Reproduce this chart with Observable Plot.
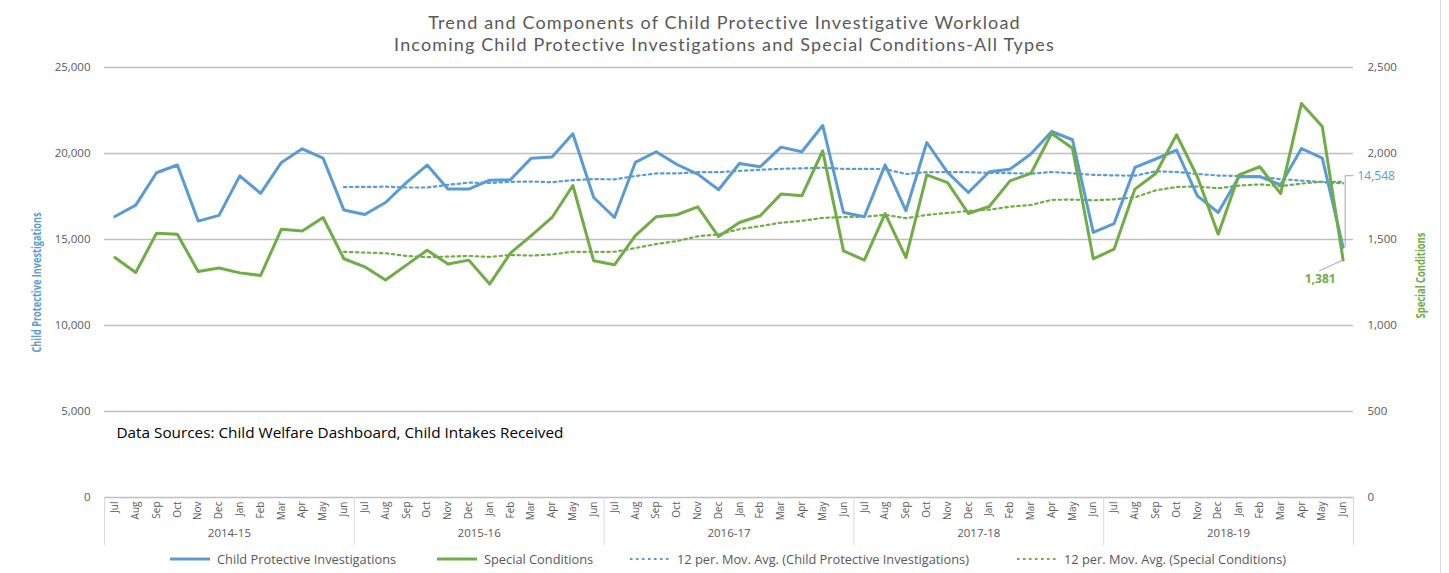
<!DOCTYPE html>
<html>
<head>
<meta charset="utf-8">
<script src="https://cdn.jsdelivr.net/npm/d3@7"></script>
<script src="https://cdn.jsdelivr.net/npm/@observablehq/plot@0.6"></script>
<style>
  html, body { margin: 0; padding: 0; background: #fff; }
  #wrap { position: relative; width: 1449px; height: 573px; overflow: hidden; font-family: "Open Sans", Lato, sans-serif; }
  #title { height: 55px; box-sizing: border-box; padding-top: 11px; text-align: center; color: #595959; font-family: Lato, "Open Sans", sans-serif; font-size: 18px; letter-spacing: 1.15px; line-height: 22px; }
  #title div { height: 22px; line-height: 22px; }
  #chart svg { display: block; }
  #legend { position: relative; height: 20px; font-size: 12.8px; color: #595959; }
  .item { position: absolute; top: -1px; height: 14px; line-height: 14px; white-space: nowrap; }
  .sw { position: absolute; top: 0; height: 12px; }
  #border { position: absolute; left: 1440px; top: 0; width: 1px; height: 573px; background: #d9d9d9; }
</style>
</head>
<body>
<div id="wrap">
  <div id="title">
    <div>Trend and Components of Child Protective Investigative Workload</div>
    <div>Incoming Child Protective Investigations and Special Conditions-All Types</div>
  </div>
  <div id="chart"></div>
  <div id="legend"></div>
  <div id="border"></div>
</div>
<script>
const years = ["2014-15", "2015-16", "2016-17", "2017-18", "2018-19"];
const months = ["Jul", "Aug", "Sep", "Oct", "Nov", "Dec", "Jan", "Feb", "Mar", "Apr", "May", "Jun"];

const childProtectiveInvestigations = [
  16340, 17000, 18880, 19330, 16070, 16400, 18700, 17680, 19480, 20270, 19730, 16710,
  16450, 17150, 18310, 19330, 17930, 17930, 18450, 18470, 19730, 19790, 21150, 17440,
  16280, 19480, 20100, 19360, 18800, 17890, 19420, 19230, 20370, 20100, 21630, 16570,
  16320, 19340, 16670, 20640, 18900, 17730, 18940, 19090, 19970, 21280, 20800, 15410,
  15930, 19190, 19680, 20200, 17540, 16570, 18650, 18660, 18180, 20290, 19730, 14548
];

const specialConditions = [
  1395, 1308, 1537, 1531, 1314, 1334, 1306, 1291, 1560, 1549, 1628, 1388,
  1341, 1264, 1351, 1438, 1357, 1380, 1241, 1421, 1522, 1628, 1814, 1376,
  1353, 1522, 1632, 1644, 1690, 1517, 1599, 1638, 1764, 1754, 2016, 1434,
  1380, 1651, 1395, 1876, 1831, 1651, 1692, 1841, 1884, 2116, 2031, 1388,
  1444, 1793, 1884, 2109, 1865, 1531, 1876, 1923, 1767, 2291, 2157, 1381
];

const leftTicks = [0, 5000, 10000, 15000, 20000, 25000];
const rightTickLabels = [0, 500, 1000, 1500, 2000, 2500];
const seriesNames = [
  "Child Protective Investigations",
  "Special Conditions",
  "12 per. Mov. Avg. (Child Protective Investigations)",
  "12 per. Mov. Avg. (Special Conditions)"
];
const sourceNote = "Data Sources: Child Welfare Dashboard, Child Intakes Received";

const BLUE = "#5B9BD5";
const GREEN = "#70AD47";
const GRAY = "#595959";
const RATIO = 10; // right axis = left axis / 10

const rows = [];
years.forEach((yr, yi) => months.forEach((m, mi) => {
  const i = yi * 12 + mi;
  rows.push({i, year: yr, month: m, cpi: childProtectiveInvestigations[i], sc: specialConditions[i]});
}));
const last = rows[rows.length - 1];
const separators = d3.range(0, years.length + 1).map(k => k * 12 - 0.5);

const fmt = d3.format(",");
const FONT = "'Open Sans', Lato, sans-serif";

const chart = Plot.plot({
  width: 1449,
  height: 498,
  marginLeft: 104,
  marginRight: 96,
  marginTop: 12,
  marginBottom: 56,
  style: {fontFamily: FONT, color: GRAY, background: "white"},
  x: {type: "linear", domain: [-0.5, rows.length - 0.5]},
  y: {domain: [0, 25000]},
  marks: [
    Plot.gridY(leftTicks, {stroke: "#bfbfbf", strokeOpacity: 1, strokeWidth: 1.3}),
    Plot.axisY({anchor: "left", ticks: leftTicks, tickFormat: fmt, tickSize: 0, tickPadding: 14, fontSize: 11.5, label: null}),
    Plot.axisY({anchor: "right", ticks: leftTicks, tickFormat: (d, k) => fmt(rightTickLabels[k]), tickSize: 0, tickPadding: 14, fontSize: 11.5, label: null}),
    Plot.axisX({ticks: rows.map(d => d.i), tickFormat: i => months[i % 12], tickRotate: -90, tickSize: 0, tickPadding: 4, fontSize: 10, label: null}),
    Plot.ruleX(separators, {x: d => d, y1: 0, y2: -2790, stroke: "#d9d9d9", strokeWidth: 1}),
    Plot.text(years, {x: (d, k) => k * 12 + 5.5, frameAnchor: "bottom", dy: 39, text: d => d, fontSize: 11.5, fill: GRAY}),
    // moving averages
    Plot.line(rows, Plot.windowY({k: 12, anchor: "end", strict: true}, {x: "i", y: "cpi", stroke: BLUE, strokeWidth: 2.2, strokeDasharray: "2.5,3.5"})),
    Plot.line(rows, Plot.windowY({k: 12, anchor: "end", strict: true}, {x: "i", y: d => d.sc * RATIO, stroke: GREEN, strokeWidth: 2.2, strokeDasharray: "2.5,3.5"})),
    // main series
    Plot.line(rows, {x: "i", y: "cpi", stroke: BLUE, strokeWidth: 3}),
    Plot.line(rows, {x: "i", y: d => d.sc * RATIO, stroke: GREEN, strokeWidth: 3}),
    // data labels with leaders
    Plot.link([last], {x1: d => d.i + 0.1, x2: d => d.i + 0.1, y1: d => d.cpi, y2: d => d.cpi + 4160, stroke: "#a6a6a6", strokeWidth: 1}),
    Plot.link([last], {x1: d => d.i + 0.1, x2: d => d.i + 0.5, y1: d => d.cpi + 4160, y2: d => d.cpi + 4160, stroke: "#a6a6a6", strokeWidth: 1}),
    Plot.text([last], {x: d => d.i + 0.5, y: d => d.cpi + 4160, dx: 4, text: d => fmt(d.cpi), textAnchor: "start", fill: BLUE, fontSize: 12}),
    Plot.link([last], {x1: d => d.i, y1: d => d.sc * RATIO, x2: d => d.i - 1.15, y2: d => d.sc * RATIO - 640, stroke: "#a6a6a6", strokeWidth: 1}),
    Plot.text([last], {x: d => d.i - 1.1, y: d => d.sc * RATIO - 640, dy: 8, text: d => fmt(d.sc), fill: GREEN, fontSize: 12, fontWeight: "bold"}),
    // axis titles
    Plot.text([seriesNames[0]], {frameAnchor: "left", dx: -68, rotate: -90, textAnchor: "middle", text: d => d, fill: BLUE, fontWeight: "bold", fontSize: 12.5}),
    Plot.text([seriesNames[1]], {frameAnchor: "right", dx: 67, dy: -7, rotate: -90, textAnchor: "middle", text: d => d, fill: GREEN, fontWeight: "bold", fontSize: 12.5}),
    // source note
    Plot.text([sourceNote], {frameAnchor: "bottom-left", dx: 12, dy: -60, text: d => d, textAnchor: "start", fill: "#000", fontSize: 15.3})
  ]
});
// condense the rotated axis titles to match the narrow original typeface
d3.select(chart).selectAll("text").each(function() {
  const t = this.textContent;
  if (t === seriesNames[0]) { this.setAttribute("textLength", 140); this.setAttribute("lengthAdjust", "spacingAndGlyphs"); }
  if (t === seriesNames[1]) { this.setAttribute("textLength", 86); this.setAttribute("lengthAdjust", "spacingAndGlyphs"); }
});
document.getElementById("chart").appendChild(chart);

// legend
const legend = document.getElementById("legend");
const legendItems = [
  {name: seriesNames[0], color: BLUE, dashed: false, sx: 170, tx: 217},
  {name: seriesNames[1], color: GREEN, dashed: false, sx: 437, tx: 484},
  {name: seriesNames[2], color: BLUE, dashed: true, sx: 630, tx: 677},
  {name: seriesNames[3], color: GREEN, dashed: true, sx: 1017, tx: 1064}
];
legendItems.forEach(it => {
  const sw = document.createElementNS("http://www.w3.org/2000/svg", "svg");
  sw.setAttribute("width", 42);
  sw.setAttribute("height", 12);
  sw.setAttribute("class", "sw");
  sw.style.left = it.sx + "px";
  const ln = document.createElementNS("http://www.w3.org/2000/svg", "line");
  ln.setAttribute("x1", 0); ln.setAttribute("x2", 40);
  ln.setAttribute("y1", 6); ln.setAttribute("y2", 6);
  ln.setAttribute("stroke", it.color);
  ln.setAttribute("stroke-width", it.dashed ? 2.2 : 3);
  if (it.dashed) ln.setAttribute("stroke-dasharray", "2.5,3.5");
  sw.appendChild(ln);
  legend.appendChild(sw);
  const t = document.createElement("div");
  t.className = "item";
  t.style.left = it.tx + "px";
  t.textContent = it.name;
  legend.appendChild(t);
});
</script>
</body>
</html>
